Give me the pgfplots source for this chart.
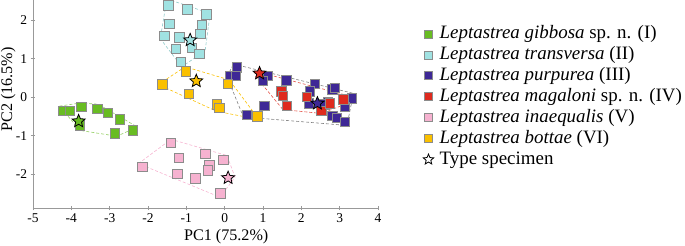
\documentclass[border=0pt]{standalone}
\usepackage{fontspec}
\setmainfont{Liberation Serif}
\usepackage{pgfplots}
\pgfplotsset{compat=1.18}
\definecolor{cgreen}{RGB}{104,188,34}
\definecolor{ccyan}{RGB}{160,226,226}
\definecolor{cpurple}{RGB}{62,40,150}
\definecolor{cred}{RGB}{222,42,30}
\definecolor{cpink}{RGB}{246,178,208}
\definecolor{cyellow}{RGB}{250,192,0}
\pgfdeclareplotmark{fstar}{%
  \pgfpathmoveto{\pgfpoint{0pt}{\pgfplotmarksize}}%
  \pgfpathlineto{\pgfpoint{-0.2645\pgfplotmarksize}{0.3641\pgfplotmarksize}}%
  \pgfpathlineto{\pgfpoint{-0.9511\pgfplotmarksize}{0.3090\pgfplotmarksize}}%
  \pgfpathlineto{\pgfpoint{-0.4280\pgfplotmarksize}{-0.1391\pgfplotmarksize}}%
  \pgfpathlineto{\pgfpoint{-0.5878\pgfplotmarksize}{-0.8090\pgfplotmarksize}}%
  \pgfpathlineto{\pgfpoint{0pt}{-0.45\pgfplotmarksize}}%
  \pgfpathlineto{\pgfpoint{0.5878\pgfplotmarksize}{-0.8090\pgfplotmarksize}}%
  \pgfpathlineto{\pgfpoint{0.4280\pgfplotmarksize}{-0.1391\pgfplotmarksize}}%
  \pgfpathlineto{\pgfpoint{0.9511\pgfplotmarksize}{0.3090\pgfplotmarksize}}%
  \pgfpathlineto{\pgfpoint{0.2645\pgfplotmarksize}{0.3641\pgfplotmarksize}}%
  \pgfpathclose
  \pgfusepathqfillstroke}
\pgfplotsset{
  sq/.style={only marks, mark=square*, mark size=4.7pt,
    mark options={draw=black!45, line width=0.8pt, fill=#1}},
  st/.style={only marks, mark=fstar, mark size=6.8pt, forget plot,
    mark options={draw=black, line width=0.8pt, fill=#1}},
  hull/.style={densely dashed, line width=0.6pt, color=#1, forget plot, mark=none},
}
\begin{document}
\begin{tikzpicture}
\begin{axis}[
  scale only axis,
  width=345bp, height=208bp,
  xmin=-5, xmax=4, ymin=-2.87, ymax=2.52,
  axis x line*=bottom, axis y line*=left,
  axis line style={black!40, line width=1pt},
  xtick={-5,-4,...,4}, ytick={-2,-1,0,1,2},
  tick align=center, major tick length=5pt,
  tick style={black!40, line width=0.8pt},
  /pgf/number format/assume math mode=true,
  tick label style={font=\fontsize{13.5}{15}\selectfont},
  xlabel={PC1 (75.2\%)}, ylabel={PC2 (16.5\%)},
  label style={font=\fontsize{16.2}{18}\selectfont},
  xlabel style={at={(axis description cs:0.56,0)}, anchor=north, yshift=-18pt},
  ylabel style={at={(axis description cs:0,0.57)}, anchor=south, yshift=14pt},
  clip=false,
  legend style={at={(axis description cs:1.122,0.8925)}, anchor=north west,
    draw=none, fill=none, font=\fontsize{19}{21}\selectfont, row sep=2pt, column sep=4pt,
    nodes={inner ysep=0pt, text height=14pt, text depth=5pt}},
  legend image post style={mark size=4pt},
  legend cell align=left,
]
% hulls
\addplot[hull=cgreen!70] coordinates {(-4.31,-0.23) (-3.77,-0.15) (-3.30,-0.18) (-2.28,-0.77) (-2.81,-1.01) (-3.77,-0.86) (-4.31,-0.23)};
\addplot[hull=ccyan!90!black] coordinates {(-1.52,2.47) (-1.30,2.48) (-0.38,2.17) (-0.51,1.20) (-1.12,0.79) (-1.68,1.52) (-1.52,2.47)};
\addplot[hull=cyellow] coordinates {(-1.73,0.33) (-1.03,0.79) (0.12,0.45) (0.90,-0.58) (-0.22,-0.36) (-1.73,0.33)};
\addplot[hull=black!50] coordinates {(0.23,0.86) (3.36,0.10) (3.19,-0.73) (0.49,-0.51) (0.06,0.53) (0.23,0.86)};
\addplot[hull=cred!80] coordinates {(0.78,0.68) (3.19,0.05) (3.15,-0.18) (2.52,-0.42) (1.52,-0.32) (0.80,0.55) (0.78,0.68)};
\addplot[hull=cpink] coordinates {(-2.25,-1.72) (-1.40,-1.09) (0.06,-1.51) (0.27,-2.07) (-0.12,-2.59) (-2.25,-1.72)};
% points
\addplot[sq=cgreen] coordinates {(-4.22,-0.36) (-4.03,-0.35) (-3.74,-0.25) (-3.32,-0.31) (-3.05,-0.40) (-2.74,-0.57) (-2.40,-0.86) (-2.87,-0.94) (-3.77,-0.73)};
\addlegendentry{\textit{Leptastrea gibbosa} sp. n. (I)}
\addplot[sq=ccyan] coordinates {(-1.47,2.38) (-0.97,2.28) (-0.48,2.15) (-1.44,1.90) (-0.60,1.87) (-1.57,1.59) (-1.18,1.55) (-0.63,1.64) (-1.28,1.26) (-0.85,1.28) (-0.66,1.12) (-1.15,0.91)};
\addlegendentry{\textit{Leptastrea transversa} (II)}
\addplot[sq=cpurple] coordinates {(0.32,0.77) (0.13,0.55) (0.29,0.55) (1.13,0.55) (1.00,0.42) (1.61,0.44) (2.36,0.34) (2.23,0.15) (2.81,0.20) (2.88,0.24) (2.20,-0.16) (2.70,-0.13) (2.60,-0.19) (3.32,-0.03) (3.14,-0.25) (1.04,-0.22) (0.58,-0.45) (2.81,-0.49) (2.93,-0.54) (3.13,-0.64)};
\addlegendentry{\textit{Leptastrea purpurea} (III)}
\addplot[sq=cred] coordinates {(1.48,0.15) (1.52,0.03) (1.63,-0.22) (2.15,0.01) (2.52,-0.36) (2.75,-0.16) (3.10,-0.06)};
\addlegendentry{\textit{Leptastrea magaloni} sp. n. (IV)}
\addplot[sq=cpink] coordinates {(-1.40,-1.18) (-2.15,-1.80) (-1.20,-1.57) (-0.50,-1.46) (-0.40,-1.77) (-0.44,-1.90) (-0.03,-1.62) (-1.23,-1.98) (-0.76,-2.10) (-0.11,-2.49)};
\addlegendentry{\textit{Leptastrea inaequalis} (V)}
\addplot[sq=cyellow] coordinates {(-1.01,0.67) (-1.62,0.33) (-0.93,0.08) (0.09,0.34) (-0.21,-0.19) (-0.14,-0.27) (0.85,-0.50)};
\addlegendentry{\textit{Leptastrea bottae} (VI)}
% type specimens
\addplot[st=cgreen] coordinates {(-3.81,-0.62)};
\addplot[st=ccyan] coordinates {(-0.90,1.48)};
\addplot[st=cyellow] coordinates {(-0.74,0.42)};
\addplot[st=cred] coordinates {(0.91,0.62)};
\addplot[st=cpurple] coordinates {(2.42,-0.16)};
\addplot[st=cpink] coordinates {(0.09,-2.09)};
\addlegendimage{only marks, mark=fstar, mark options={draw=black, line width=0.8pt, fill=white, mark size=5.5pt}}
\addlegendentry{Type specimen}
\end{axis}
\pgfresetboundingbox
\path[use as bounding box] (-33bp,-38bp) rectangle (652bp,208bp);
\end{tikzpicture}
\end{document}
